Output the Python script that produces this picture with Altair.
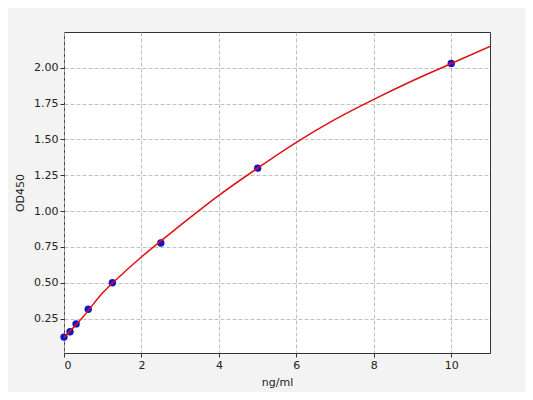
import altair as alt
import pandas as pd

# Standard points
conc = [0, 0.156, 0.3125, 0.625, 1.25, 2.5, 5, 10]
od = [0.121, 0.158, 0.213, 0.315, 0.500, 0.778, 1.300, 2.030]

# Fitted curve
curve_x = [0, 0.25, 0.5, 1, 1.5, 2, 3, 4, 5, 6, 7, 8, 9, 10, 11]
curve_y = [0.12, 0.19, 0.265, 0.43, 0.56, 0.68, 0.90, 1.11, 1.30, 1.48, 1.64, 1.78, 1.91, 2.03, 2.15]

x_ticks = [0, 2, 4, 6, 8, 10]
y_ticks = [0.25, 0.50, 0.75, 1.00, 1.25, 1.50, 1.75, 2.00]

pts = pd.DataFrame({"x": conc, "y": od})
crv = pd.DataFrame({"x": curve_x, "y": curve_y})

xs = alt.Scale(domain=[0, 11], nice=False, zero=False)
ys = alt.Scale(domain=[0.01, 2.25], nice=False, zero=False)

xax = alt.Axis(values=x_ticks, title="ng/ml", grid=True, gridDash=[4, 2], gridColor="#b0b0b0",
               gridWidth=0.8, domain=False, tickColor="#333333", tickSize=4, labelFontSize=11,
               titleFontSize=11, titleFontWeight="normal", labelColor="#222222", titleColor="#222222",
               labelFont="DejaVu Sans", titleFont="DejaVu Sans", titlePadding=6, format="d")
yax = alt.Axis(values=y_ticks, title="OD450", grid=True, gridDash=[4, 2], gridColor="#b0b0b0",
               gridWidth=0.8, domain=False, tickColor="#333333", tickSize=4, labelFontSize=11,
               titleFontSize=11, titleFontWeight="normal", labelColor="#222222", titleColor="#222222",
               labelFont="DejaVu Sans", titleFont="DejaVu Sans", format=".2f", titlePadding=8)

points = alt.Chart(pts).mark_circle(size=55, color="#1414c8", opacity=1).encode(
    x=alt.X("x:Q", scale=xs, axis=xax),
    y=alt.Y("y:Q", scale=ys, axis=yax),
)
line = alt.Chart(crv).mark_line(color="#dd1111", strokeWidth=1.5, interpolate="monotone", clip=True).encode(
    x=alt.X("x:Q", scale=xs),
    y=alt.Y("y:Q", scale=ys),
)

chart = alt.layer(points, line).properties(
    width=426, height=321,
    autosize=alt.AutoSizeParams(type="none"),
    padding={"left": 56, "top": 24, "right": 35, "bottom": 39},
    background="#f3f3f3",
).configure_view(stroke="#333333", strokeWidth=1, fill="white")

chart.save("out.html", embed_options={"renderer": "svg", "actions": False})
